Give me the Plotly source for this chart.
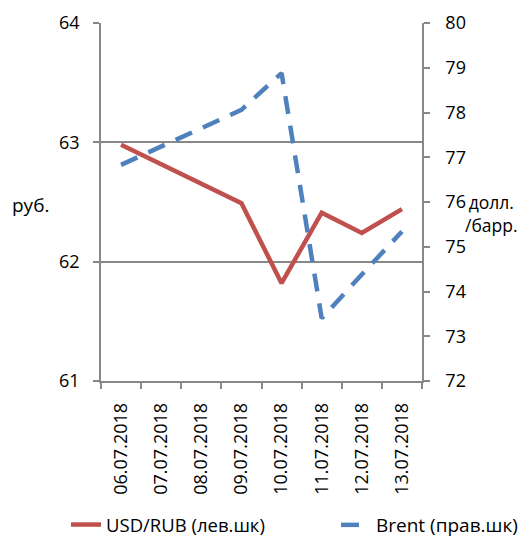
import plotly.graph_objects as go

dates = ["06.07.2018", "07.07.2018", "08.07.2018", "09.07.2018",
         "10.07.2018", "11.07.2018", "12.07.2018", "13.07.2018"]
usd_rub = [62.98, None, None, 62.49, 61.82, 62.41, 62.24, 62.44]
brent = [76.83, None, None, 78.06, 78.88, 73.40, 74.38, 75.34]

FONT = "Open Sans"
FS = 18
FS_TXT = 19
GRID = "#888888"

# page body has an 8px margin: the figure starts at (8, 8) in the window
OFF = 8
W, H = 529 - OFF, 538 - OFF
# plot area in window pixels: x 101..422, y 23..381
L, T = 101 - OFF, 23 - OFF
R = W - (422 - OFF)
B = H - (381 - OFF)
pw, ph = W - L - R, H - T - B


def px_x(p):  # window pixel -> paper x
    return (p - 101) / pw


def px_y(p):  # window pixel -> paper y
    return (381 - p) / ph


fig = go.Figure()
fig.add_trace(go.Scatter(
    x=dates, y=usd_rub, name="USD/RUB (лев.шк)", mode="lines",
    connectgaps=True, line=dict(color="#C0504D", width=4.5),
    yaxis="y", legend="legend"))
fig.add_trace(go.Scatter(
    x=dates, y=brent, name="Brent (прав.шк)", mode="lines",
    connectgaps=True, line=dict(color="#4F81BD", width=4.5, dash="18px,12px"),
    yaxis="y2", legend="legend2"))

leg_common = dict(orientation="h", yanchor="middle", y=px_y(525),
                  xanchor="left", bgcolor="rgba(0,0,0,0)", borderwidth=0)

fig.update_layout(
    width=W, height=H,
    margin=dict(l=L, r=R, t=T, b=B, autoexpand=False),
    paper_bgcolor="white", plot_bgcolor="white",
    font=dict(family=FONT, size=FS, color="#000000"),
    showlegend=True,
    legend=dict(x=px_x(66), font=dict(size=18.5), **leg_common),
    legend2=dict(x=px_x(336), font=dict(size=19), **leg_common),
    xaxis=dict(type="category", tickangle=-90, showgrid=False,
               range=[-0.5, len(dates) - 0.5],
               showline=True, linecolor=GRID, linewidth=1.5,
               ticks="outside", ticklen=6, tickcolor=GRID, tickwidth=1.5,
               tickson="boundaries", mirror=False, zeroline=False,
               ticklabelstandoff=13, automargin=False),
    yaxis=dict(range=[61, 64], dtick=1, showgrid=True, gridcolor=GRID,
               gridwidth=1.5, showline=True, linecolor=GRID, linewidth=1.5,
               ticks="outside", ticklen=6, tickcolor=GRID, tickwidth=1.5,
               zeroline=False, ticklabelstandoff=10, automargin=False),
    yaxis2=dict(range=[72, 80], dtick=1, overlaying="y", side="right",
                showgrid=False, showline=True, linecolor=GRID, linewidth=1.5,
                ticks="outside", ticklen=6, tickcolor=GRID, tickwidth=1.5,
                zeroline=False, ticklabelstandoff=12, automargin=False),
    annotations=[
        dict(text="руб.", xref="paper", yref="paper", x=px_x(30), y=px_y(205),
             showarrow=False, xanchor="center", yanchor="middle",
             font=dict(size=FS_TXT)),
        dict(text="долл.<br>/барр.", xref="paper", yref="paper",
             x=px_x(520), y=px_y(213), showarrow=False, xanchor="right",
             yanchor="middle", align="center", font=dict(size=17.5)),
    ],
)

fig.write_html("out.html")
